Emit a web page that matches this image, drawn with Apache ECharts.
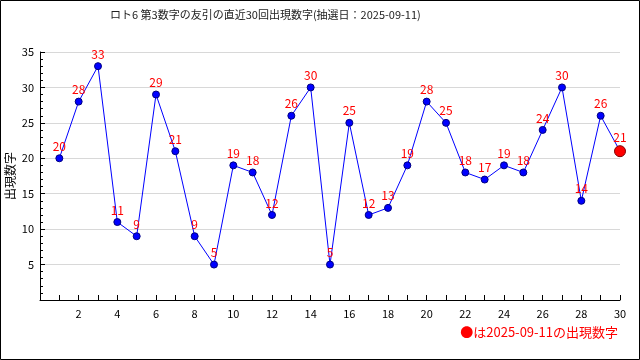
<!DOCTYPE html>
<html><head><meta charset="utf-8">
<script src="https://cdn.jsdelivr.net/npm/echarts@6/dist/echarts.min.js"></script>
<style>html,body{margin:0;padding:0;background:#fff}#c{width:640px;height:360px}</style>
</head><body><div id="c"></div>
<script>
const draws = [1,2,3,4,5,6,7,8,9,10,11,12,13,14,15,16,17,18,19,20,21,22,23,24,25,26,27,28,29,30];
const values = [20,28,33,11,9,29,21,9,5,19,18,12,26,30,5,25,12,13,19,28,25,18,17,19,18,24,30,14,26,21];
const titleText = 'ロト6 第3数字の友引の直近30回出現数字(抽選日：2025-09-11)';
const legendText = '●は2025-09-11の出現数字';
const yName = '出現数字';

const font = '"Noto Sans CJK JP", "DejaVu Sans", sans-serif';
const data = draws.map((d,i)=>{
  const last = i === draws.length-1;
  return {
    value:[d, values[i]],
    symbolSize: last ? 11 : 7,
    itemStyle: last ? {color:'#ff0000', borderColor:'#800000', borderWidth:1} : {color:'#0000ff', borderColor:'#000080', borderWidth:1}
  };
});
const chart = echarts.init(document.getElementById('c'), null, {renderer:'canvas'});
chart.setOption({
  animation:false,
  backgroundColor:'#fff',
  title:{text:titleText, left:105, top:4, textStyle:{fontSize:11, fontWeight:'normal', color:'#222', fontFamily:font}},
  grid:{left:40, right:20, top:52, bottom:60, containLabel:false, outerBoundsMode:'none'},
  xAxis:{type:'value', min:0, max:30, interval:2,
    axisLine:{lineStyle:{color:'#000'}},
    axisTick:{inside:true, length:5, lineStyle:{color:'#000'}},
    minorTick:{show:true, splitNumber:2, length:5, lineStyle:{color:'#000'}},
    splitLine:{show:false},
    axisLabel:{color:'#000', fontSize:11, fontFamily:font, margin:8, formatter:v=> v===0?'':String(v)}
  },
  yAxis:{type:'value', min:0, max:35, interval:5,
    name:yName, nameLocation:'middle', nameGap:24, nameRotate:90, nameMoveOverlap:false,
    nameTextStyle:{color:'#000', fontSize:12, fontFamily:font},
    axisLine:{show:true, lineStyle:{color:'#000'}},
    axisTick:{inside:true, length:5, lineStyle:{color:'#000'}},
    minorTick:{show:true, splitNumber:5, length:3, lineStyle:{color:'#000'}},
    splitLine:{show:true, lineStyle:{color:'#d8d8d8'}},
    axisLabel:{color:'#000', fontSize:11, fontFamily:font, margin:6, formatter:v=> v===0?'':String(v)}
  },
  series:[{type:'line', data:data, symbol:'circle',
    lineStyle:{color:'#0000ff', width:1},
    label:{show:true, position:'top', distance:2, color:'#ff0000', fontSize:12, fontFamily:font, formatter:p=>String(p.value[1])},
    z:3
  }],
  graphic:[
    {type:'rect', shape:{x:0.5,y:0.5,width:639,height:359}, style:{fill:'none', stroke:'#000', lineWidth:1}, silent:true},
    {type:'text', right:22, top:326, style:{text:legendText, fill:'#ff0000', fontSize:13, fontFamily:font}}
  ]
});
</script></body></html>
